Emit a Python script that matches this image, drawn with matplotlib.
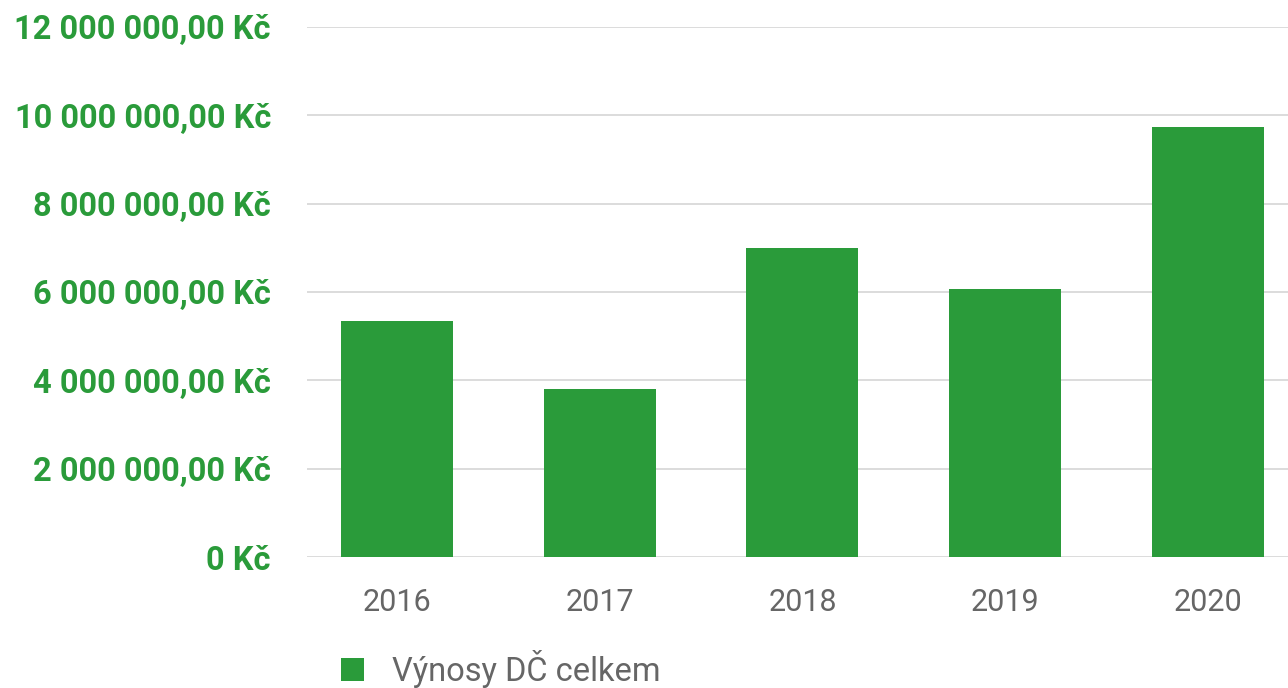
import matplotlib
matplotlib.use("Agg")
import matplotlib.pyplot as plt
from matplotlib.ticker import FuncFormatter

years = ["2016", "2017", "2018", "2019", "2020"]
values = [5340000, 3800000, 7000000, 6070000, 9740000]
series_name = "Výnosy DČ celkem"
y_ticks = [0, 2000000, 4000000, 6000000, 8000000, 10000000, 12000000]

GREEN = "#2a9b3a"
plt.rcParams['font.family'] = ['Roboto', 'DejaVu Sans']

W, H = 1288, 688
fig = plt.figure(figsize=(W / 100, H / 100), dpi=100)
ax = fig.add_axes([307 / W, 1 - 557 / H, (W - 307) / W, (557 - 27) / H])

x = list(range(len(years)))
ax.bar(x, values, width=0.552, color=GREEN, label=series_name, zorder=3)

ax.set_xlim(-0.443, 4.394)
ax.set_ylim(0, 12000000)
ax.set_yticks(y_ticks)


def fmt(v, pos):
    if v == 0:
        return "0 Kč"
    s = f"{int(round(v)):,}".replace(",", " ")
    return s + ",00 Kč"


ax.yaxis.set_major_formatter(FuncFormatter(fmt))
ax.set_xticks(x)
ax.set_xticklabels(years)

ax.grid(axis='y', color="#d9d9d9", linewidth=1.3, zorder=0)
for s in ax.spines.values():
    s.set_visible(False)
ax.tick_params(axis='y', length=0, pad=26, labelsize=23.5, labelcolor=GREEN)
ax.tick_params(axis='x', length=0, pad=22, labelsize=22, labelcolor="#666666")
for lab in ax.get_yticklabels():
    lab.set_fontweight('bold')

fig.legend(loc='center left', bbox_to_anchor=(341 / W, 1 - 669 / H),
           frameon=False, fontsize=23.5, handlelength=0.7, handleheight=0.7,
           handletextpad=0.85, borderpad=0, borderaxespad=0,
           labelcolor="#666666")

fig.savefig("out.png", dpi=100)
